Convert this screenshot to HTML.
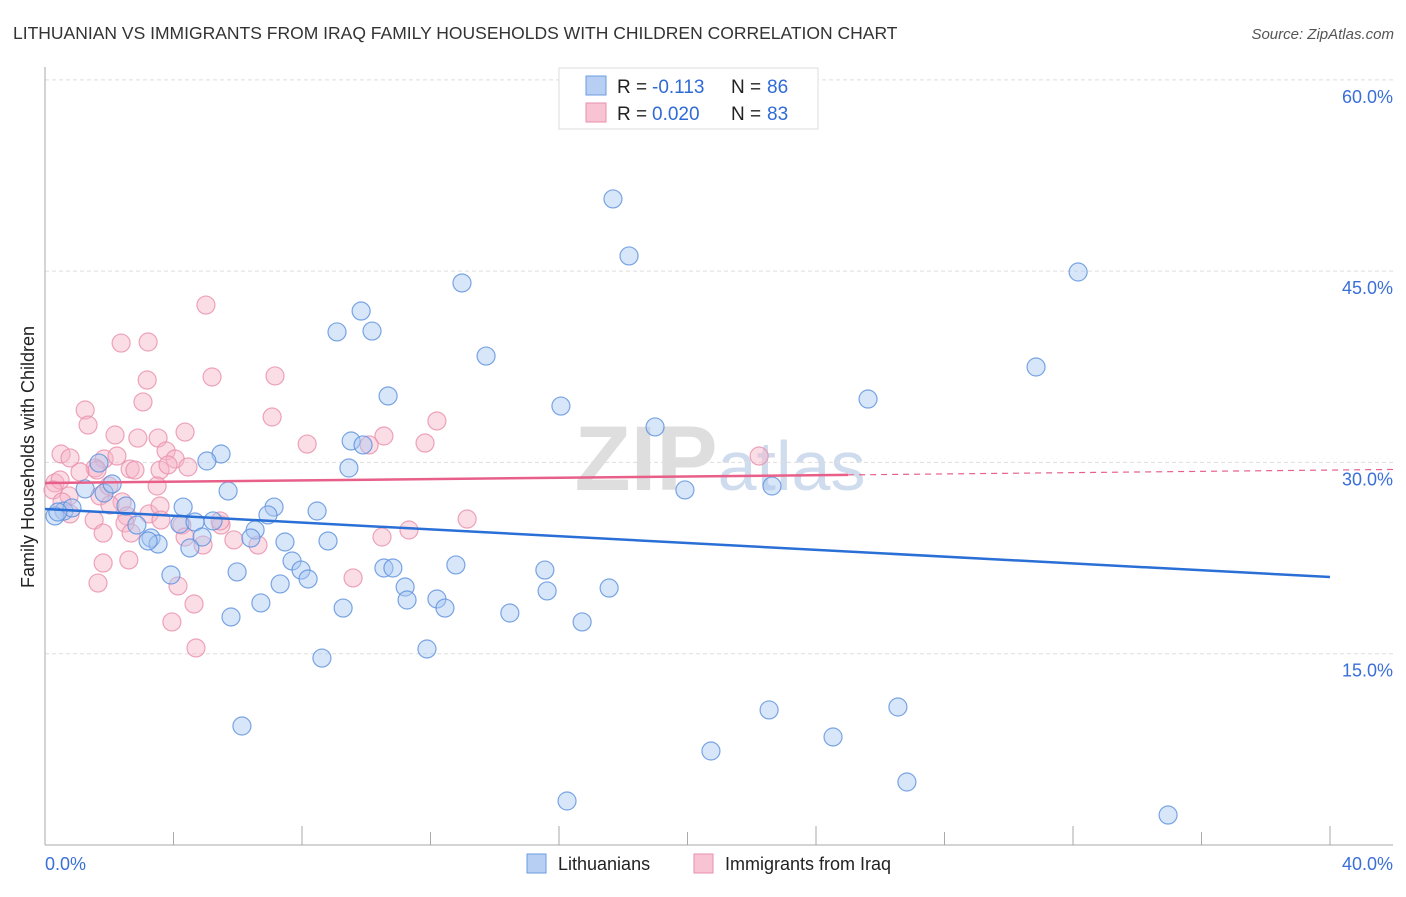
<!DOCTYPE html>
<html><head><meta charset="utf-8"><style>
body{margin:0;background:#fff;font-family:"Liberation Sans",sans-serif}
svg text{font-family:"Liberation Sans",sans-serif}
</style></head><body>
<svg id="chart" width="1406" height="892" xmlns="http://www.w3.org/2000/svg">
<text x="13" y="39" font-size="17.5" fill="#333">LITHUANIAN VS IMMIGRANTS FROM IRAQ FAMILY HOUSEHOLDS WITH CHILDREN CORRELATION CHART</text>
<text x="1394" y="39" font-size="15" fill="#555" font-style="italic" text-anchor="end">Source: ZipAtlas.com</text>
<text x="720" y="490" font-size="92" fill="#e4e4e4" text-anchor="middle" font-family="Liberation Serif"><tspan font-weight="bold" fill="#dedede">ZIP</tspan><tspan font-size="70" fill="#cfdcee">atlas</tspan></text>
<g id="grid"></g><g id="axes"></g><g id="pts"></g><g id="lines"></g>
<text transform="translate(34,457) rotate(-90)" font-size="18" fill="#222" text-anchor="middle">Family Households with Children</text>
<g>
<rect x="559" y="68" width="259" height="61" fill="#fff" stroke="#ddd"/>
<rect x="586" y="76" width="20" height="19" fill="#b6cff2" stroke="#6a9be0"/>
<rect x="586" y="103" width="20" height="19" fill="#f8c4d4" stroke="#e98fab"/>
<text x="617" y="93" font-size="19" fill="#222">R =</text>
<text x="652" y="93" font-size="19" fill="#2f6bd6">-0.113</text>
<text x="731" y="93" font-size="19" fill="#222">N =</text>
<text x="767" y="93" font-size="19" fill="#2f6bd6">86</text>
<text x="617" y="120" font-size="19" fill="#222">R =</text>
<text x="652" y="120" font-size="19" fill="#2f6bd6">0.020</text>
<text x="731" y="120" font-size="19" fill="#222">N =</text>
<text x="767" y="120" font-size="19" fill="#2f6bd6">83</text>
</g>
<g>
<rect x="527" y="854" width="19" height="19" fill="#b6cff2" stroke="#6a9be0"/>
<text x="558" y="870" font-size="18" fill="#222">Lithuanians</text>
<rect x="694" y="854" width="19" height="19" fill="#f8c4d4" stroke="#e98fab"/>
<text x="725" y="870" font-size="18" fill="#222">Immigrants from Iraq</text>
</g>
</svg>
<script>
const yTicks=[15,30,45,60];
const yTickLabels=["15.0%","30.0%","45.0%","60.0%"];
const xTickVals=[4,8,12,16,20,24,28,32,36,40];
const blueX=[17.68,18.18,12.98,32.16,9.84,9.09,10.18,13.73,30.85,10.68,16.06,25.62,18.99,9.53,9.90,5.48,5.04,9.46,19.92,22.63,1.68,1.25,1.84,2.09,5.70,2.52,4.30,0.59,0.84,0.31,0.40,4.20,4.67,5.23,2.86,7.13,6.94,8.47,6.54,6.41,4.89,3.30,3.52,3.21,4.51,7.47,8.81,7.69,7.97,8.19,5.98,3.92,10.55,10.83,12.79,15.56,11.21,7.32,11.27,12.20,12.45,15.63,17.56,9.28,14.47,6.72,5.79,16.72,11.89,8.62,6.13,22.54,26.55,24.53,20.73,26.83,16.25,34.96];
const blueY=[50.66,46.19,44.07,44.93,41.87,40.23,40.30,38.34,37.48,35.21,34.42,34.97,32.78,31.68,31.37,30.66,30.11,29.56,27.84,28.15,29.95,27.92,27.60,28.31,27.76,26.58,26.50,26.19,26.43,25.80,26.11,25.17,25.33,25.41,25.09,26.50,25.88,26.19,24.70,24.07,24.15,24.07,23.60,23.84,23.29,23.76,23.84,22.27,21.56,20.86,21.41,21.17,21.72,21.72,21.96,21.56,20.23,20.47,19.21,19.29,18.58,19.92,20.15,18.58,18.19,18.98,17.88,17.49,15.37,14.66,9.33,10.59,10.82,8.47,7.37,4.94,3.45,2.35];
const pinkX=[5.01,2.37,3.21,3.18,5.20,7.16,3.05,1.25,1.34,7.07,12.20,2.18,4.36,3.52,10.55,11.83,0.50,0.78,1.84,2.24,2.89,3.77,4.05,3.58,3.83,4.45,1.56,2.65,2.80,22.23,1.09,1.62,0.31,0.47,0.25,0.75,1.71,1.99,3.49,2.40,0.53,2.02,3.24,3.58,0.78,1.53,2.55,2.49,4.26,5.48,2.68,1.81,4.36,5.45,5.88,6.63,4.92,10.49,11.33,13.14,3.61,1.81,2.61,4.14,1.65,9.59,4.64,3.95,4.70,8.16,10.09];
const pinkY=[42.34,39.36,39.44,36.46,36.70,36.78,34.74,34.11,32.93,33.56,33.25,32.15,32.38,31.91,32.07,31.52,30.66,30.35,30.27,30.50,31.91,30.90,30.27,29.40,29.80,29.64,29.56,29.48,29.40,30.50,29.25,29.40,28.39,28.62,27.84,27.37,27.37,28.15,28.15,26.90,26.90,26.66,25.96,26.58,25.96,25.48,25.80,25.25,25.09,25.09,24.46,24.46,24.15,25.41,23.92,23.52,23.52,24.15,24.70,25.56,25.48,22.11,22.35,20.31,20.54,20.94,18.90,17.49,15.45,31.44,31.37];
const blueTrend=[26.35,21.01];
const pinkTrend=[28.39,29.4];
const X=v=>45+v*32.125, Y=v=>845-v*12.753;
const NS="http://www.w3.org/2000/svg";
function mk(t,a,p){const e=document.createElementNS(NS,t);for(const k in a)e.setAttribute(k,a[k]);document.getElementById(p).appendChild(e);return e;}
yTicks.forEach((t,i)=>{
 const g=mk('line',{x1:45,x2:1393,y1:Y(t),y2:Y(t),stroke:'#ddd','stroke-dasharray':'4,3'},'grid');
 
 
 const l=mk('text',{x:1393,y:Y(t)+23,'font-size':18,fill:'#3a6fd8','text-anchor':'end'},'axes');
 l.textContent=yTickLabels[i];
 
 
});
let a=mk('line',{x1:45,x2:45,y1:67,y2:845,stroke:'#aaa'},'axes');


a=mk('line',{x1:45,x2:1393,y1:845,y2:845,stroke:'#aaa'},'axes');


xTickVals.forEach((t,i)=>{
 const e=mk('line',{x1:X(t),x2:X(t),y1:845,y2:i%2?826:832,stroke:'#aaa'},'axes');
 
 
});
let t=mk('text',{x:45,y:870,'font-size':18,fill:'#3a6fd8'},'axes');t.textContent='0.0%';


t=mk('text',{x:1393,y:870,'font-size':18,fill:'#3a6fd8','text-anchor':'end'},'axes');t.textContent='40.0%';


function pts(xs,ys,fill,stroke,name){xs.forEach((x,i)=>{
 const c=mk('circle',{cx:X(x),cy:Y(ys[i]),r:9,fill:fill,'fill-opacity':0.45,stroke:stroke,'stroke-opacity':0.8,'stroke-width':1.2},'pts');
 
 
});}
pts(pinkX,pinkY,'#f7b3c8','#e98fab','point-iraq');
pts(blueX,blueY,'#a9c8f2','#5b90dd','point-lithuanian');
let ln=mk('line',{x1:X(0),y1:Y(blueTrend[0]),x2:X(40),y2:Y(blueTrend[1]),stroke:'#2a6fd6','stroke-width':2.5},'lines');


const pAt=v=>pinkTrend[0]+(pinkTrend[1]-pinkTrend[0])*v/40;
ln=mk('line',{x1:X(0),y1:Y(pAt(0)),x2:X(25),y2:Y(pAt(25)),stroke:'#e8608a','stroke-width':2.5},'lines');


ln=mk('line',{x1:X(25),y1:Y(pAt(25)),x2:1393,y2:Y(pAt((1393-45)/32.125)),stroke:'#e8608a','stroke-width':1.2,'stroke-dasharray':'6,5'},'lines');


</script>
</body></html>
